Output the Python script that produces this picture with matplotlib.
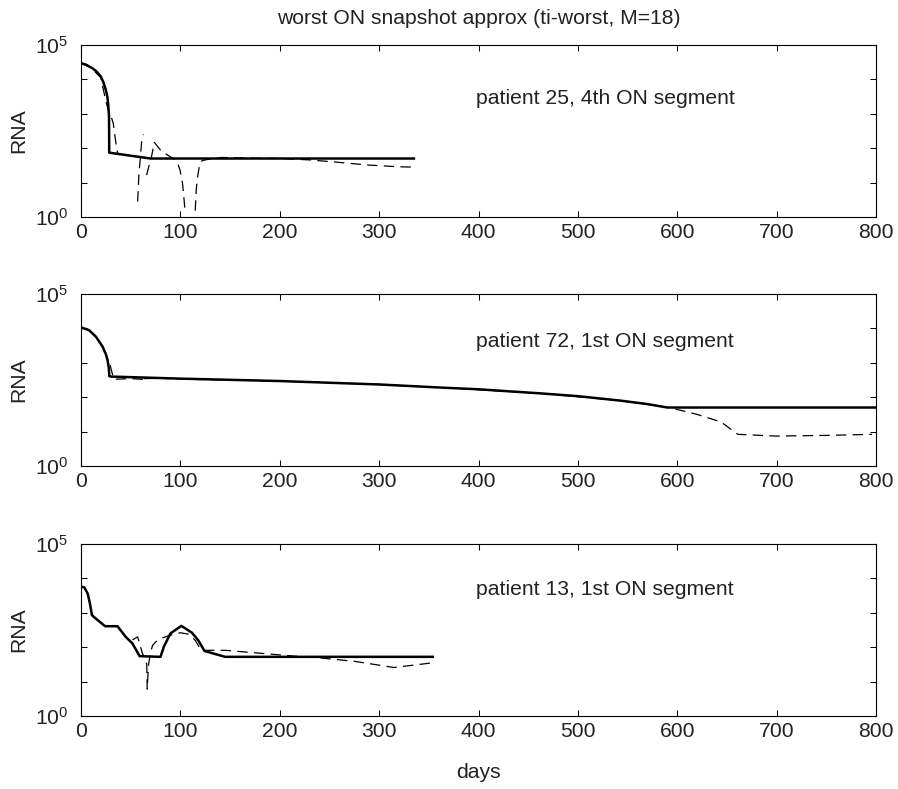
import numpy as np
import matplotlib
matplotlib.use("Agg")
import matplotlib.pyplot as plt
from matplotlib.ticker import FixedLocator, FuncFormatter

plt.rcParams['font.family'] = ['Liberation Sans', 'DejaVu Sans']
plt.rcParams['mathtext.default'] = 'regular'
plt.rcParams['lines.scale_dashes'] = False

nan = np.nan

# ---------------- data (RNA values, as log10) ----------------
# patient 25, 4th ON segment
p25_days_fit = [0, 5, 11.7, 16, 20, 22.5, 25, 26.5, 27.3, 28.2, 28.4, 70, 335]
p25_log_fit = [4.47, 4.43, 4.32, 4.22, 4.08, 3.92, 3.69, 3.50, 3.30, 2.92, 1.87, 1.70, 1.70]
p25_days_approx = [0, 10, 20, 24, 27, 30, 32.5, 34.9, 36.9, 38,
                   57.0, 58.4, 59.4, 61.0, 62.7, 63.5,
                   66.1, 67.7, 71, 73.8, 81.2, 87.2, 94.6, 97.9, 99.6, 101.9, 102.9, 104.6, 105.5,
                   113.8, 114.7, 116, 117.5, 119.5, 122, 130, 141, 200, 230, 255, 289, 320, 335]
p25_log_approx = [4.47, 4.34, 4.05, 3.50, 3.15, 2.95, 2.72, 2.19, 1.85, nan,
                  0.45, 1.32, 1.61, 2.19, 2.40, nan,
                  1.22, 1.41, 1.76, 2.17, 1.90, 1.80, 1.66, 1.51, 1.37, 1.03, 0.78, 0.20, nan,
                  -0.3, 0.05, 0.80, 1.20, 1.55, 1.64, 1.69, 1.73, 1.70, 1.66, 1.60, 1.51, 1.46, 1.45]

# patient 72, 1st ON segment
p72_days_fit = [0, 8, 15, 21.7, 25, 26.7, 28, 28.5, 30, 100, 200, 300, 362, 400, 463, 500, 543, 570, 590, 800]
p72_log_fit = [4.03, 3.95, 3.76, 3.47, 3.25, 3.08, 2.85, 2.61, 2.60, 2.54, 2.47, 2.37, 2.28, 2.23, 2.11,
               2.03, 1.90, 1.80, 1.70, 1.70]
p72_days_approx = [0, 8, 15, 21.7, 25, 27, 29, 30, 33, 40, 50, 62, 63, 64, 80, 110, 200, 300, 362, 463,
                   543, 592, 620, 644, 653, 661, 699, 750, 796]
p72_log_approx = [4.03, 3.95, 3.76, 3.47, 3.25, 3.10, 3.00, 2.85, 2.52, 2.53, 2.54, 2.52, 2.64, 2.54, 2.55,
                  2.52, 2.47, 2.37, 2.28, 2.11, 1.90, 1.70, 1.50, 1.28, 1.09, 0.92, 0.87, 0.89, 0.92]

# patient 13, 1st ON segment
p13_days_fit = [0, 3.3, 6.7, 9, 11, 15, 24.3, 36.7, 45, 51.7, 59, 80, 83.3, 90, 101, 111.7, 118, 124.3,
                145, 354]
p13_log_fit = [3.76, 3.74, 3.56, 3.27, 2.93, 2.83, 2.61, 2.61, 2.30, 2.11, 1.74, 1.72, 2.01, 2.40, 2.62,
               2.42, 2.20, 1.89, 1.72, 1.72]
p13_days_approx = [0, 3.3, 6.7, 9, 11, 15, 24.3, 36.7, 45, 51, 57, 59, 62, 64, 66.2, 66.6, 68, 70, 72, 75,
                   80, 90, 100, 108, 115, 120, 125, 145, 215, 240, 275, 315, 352]
p13_log_approx = [3.76, 3.74, 3.56, 3.27, 2.93, 2.83, 2.61, 2.61, 2.30, 2.20, 2.30, 2.10, 1.80, 1.72,
                  1.50, 0.78, 1.50, 1.85, 2.05, 2.15, 2.25, 2.35, 2.42, 2.38, 2.20, 1.95, 1.91, 1.91,
                  1.74, 1.69, 1.59, 1.41, 1.54]

panel_labels = ["patient 25, 4th ON segment", "patient 72, 1st ON segment", "patient 13, 1st ON segment"]
panels = [
    (p25_days_fit, p25_log_fit, p25_days_approx, p25_log_approx),
    (p72_days_fit, p72_log_fit, p72_days_approx, p72_log_approx),
    (p13_days_fit, p13_log_fit, p13_days_approx, p13_log_approx),
]
title = "worst ON snapshot approx (ti-worst, M=18)"
xlabel = "days"
ylabel = "RNA"
xticks = [0, 100, 200, 300, 400, 500, 600, 700, 800]
yticks = [1e0, 1e1, 1e2, 1e3, 1e4, 1e5]

# ---------------- figure ----------------
W, H = 898, 789
fig = plt.figure(figsize=(W / 100, H / 100), dpi=100)
txtc = '#222222'
FS = 15.2

left_px, right_px = 81, 876
tops_px = [45, 294, 544]
height_px = 172
label_y = [0.657, 0.692, 0.703]

def yfmt(v, pos):
    e = int(round(np.log10(v)))
    if e in (0, 5):
        return r'$10^{%d}$' % e
    return ''

for i, (dfit, lfit, dapp, lapp) in enumerate(panels):
    top = tops_px[i]
    ax = fig.add_axes([left_px / W, 1 - (top + height_px) / H, (right_px - left_px) / W, height_px / H])
    ax.semilogy(dapp, 10 ** np.array(lapp, dtype=float), color='black', lw=0.9,
                linestyle=(0, (7.5, 4.5)))
    ax.semilogy(dfit, 10 ** np.array(lfit, dtype=float), color='black', lw=1.8)
    ax.set_xlim(0, 800)
    ax.set_ylim(1e0, 1e5)
    ax.xaxis.set_major_locator(FixedLocator(xticks))
    ax.yaxis.set_major_locator(FixedLocator(yticks))
    ax.yaxis.set_minor_locator(FixedLocator([]))
    ax.yaxis.set_major_formatter(FuncFormatter(yfmt))
    ax.tick_params(which='both', direction='in', top=True, right=True, length=4.3, width=0.75,
                   labelsize=FS, colors='black', labelcolor=txtc)
    ax.tick_params(axis='x', pad=4)
    ax.tick_params(axis='y', pad=9)
    for s in ax.spines.values():
        s.set_linewidth(0.8)
    ax.set_ylabel(ylabel, fontsize=FS, color=txtc)
    ax.yaxis.set_label_coords(-0.0667, 0.5)
    ax.text(0.497, label_y[i], panel_labels[i], transform=ax.transAxes, fontsize=FS, color=txtc,
            ha='left', va='baseline')

fig.text((left_px + right_px) / 2 / W, 1 - 24 / H, title, ha='center', va='baseline', fontsize=FS, color=txtc)
fig.text((left_px + right_px) / 2 / W, 1 - 778 / H, xlabel, ha='center', va='baseline', fontsize=FS, color=txtc)

fig.savefig("out.png", dpi=100, facecolor='white')
